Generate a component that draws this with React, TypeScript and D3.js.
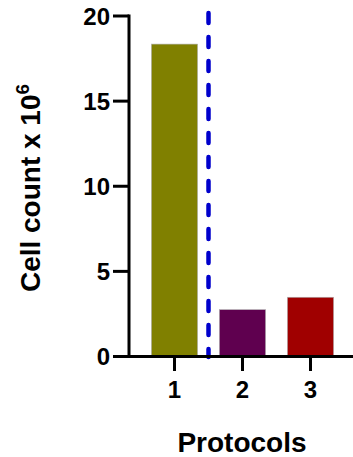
import React from "react";
import * as d3 from "d3";

const categories = ["1", "2", "3"];
const values = [18.35, 2.75, 3.48];
const colors = ["#808000", "#5F004F", "#A00000"];
const yTicks = [0, 5, 10, 15, 20];

export default function App() {
  const W = 353, H = 457;
  const x = d3.scaleBand<string>().domain(categories).range([140.5, 344.5]).paddingInner(0.32).paddingOuter(0.16);
  const y = d3.scaleLinear().domain([0, 20]).range([356.5, 16]);
  const font = "'Liberation Sans', Arial, Helvetica, sans-serif";
  const axisX = 129;
  const axisY = y(0);
  const divX = x(categories[0])! + x.bandwidth() + (x.step() - x.bandwidth()) / 2;
  return (
    <svg width={W} height={H} style={{ position: "absolute", left: 0, top: 0 }} fontFamily={font}>
      {values.map((v, i) => (
        <rect key={i} x={x(categories[i])} y={y(v)} width={x.bandwidth()} height={axisY - y(v)}
          fill={colors[i]} stroke="#b0b0b0" strokeWidth={0.6} />
      ))}
      <line x1={divX} x2={divX} y1={13} y2={357} stroke="#0000CC" strokeWidth={4.5}
        strokeDasharray="10 14" strokeLinecap="round" />
      {/* y axis */}
      <line x1={axisX} x2={axisX} y1={y(20) - 1.5} y2={axisY + 1.5} stroke="#000" strokeWidth={3} />
      {yTicks.map(t => (
        <g key={t}>
          <line x1={113} x2={axisX} y1={y(t)} y2={y(t)} stroke="#000" strokeWidth={3} />
          <text x={110} y={y(t)} dy="0.36em" textAnchor="end" fontSize={24} fontWeight="bold">{t}</text>
        </g>
      ))}
      {/* x axis */}
      <line x1={113} x2={353} y1={axisY} y2={axisY} stroke="#000" strokeWidth={3} />
      {categories.map(c => {
        const cx = x(c)! + x.bandwidth() / 2;
        return (
          <g key={c}>
            <line x1={cx} x2={cx} y1={axisY} y2={371} stroke="#000" strokeWidth={3} />
            <text x={cx} y={398} textAnchor="middle" fontSize={24} fontWeight="bold">{c}</text>
          </g>
        );
      })}
      <text x={242} y={452} textAnchor="middle" fontSize={28} fontWeight="bold">Protocols</text>
      <text transform="translate(40,188) rotate(-90)" textAnchor="middle" fontSize={28} fontWeight="bold">
        Cell count x 10<tspan dy="-11" fontSize={19}>6</tspan>
      </text>
    </svg>
  );
}
